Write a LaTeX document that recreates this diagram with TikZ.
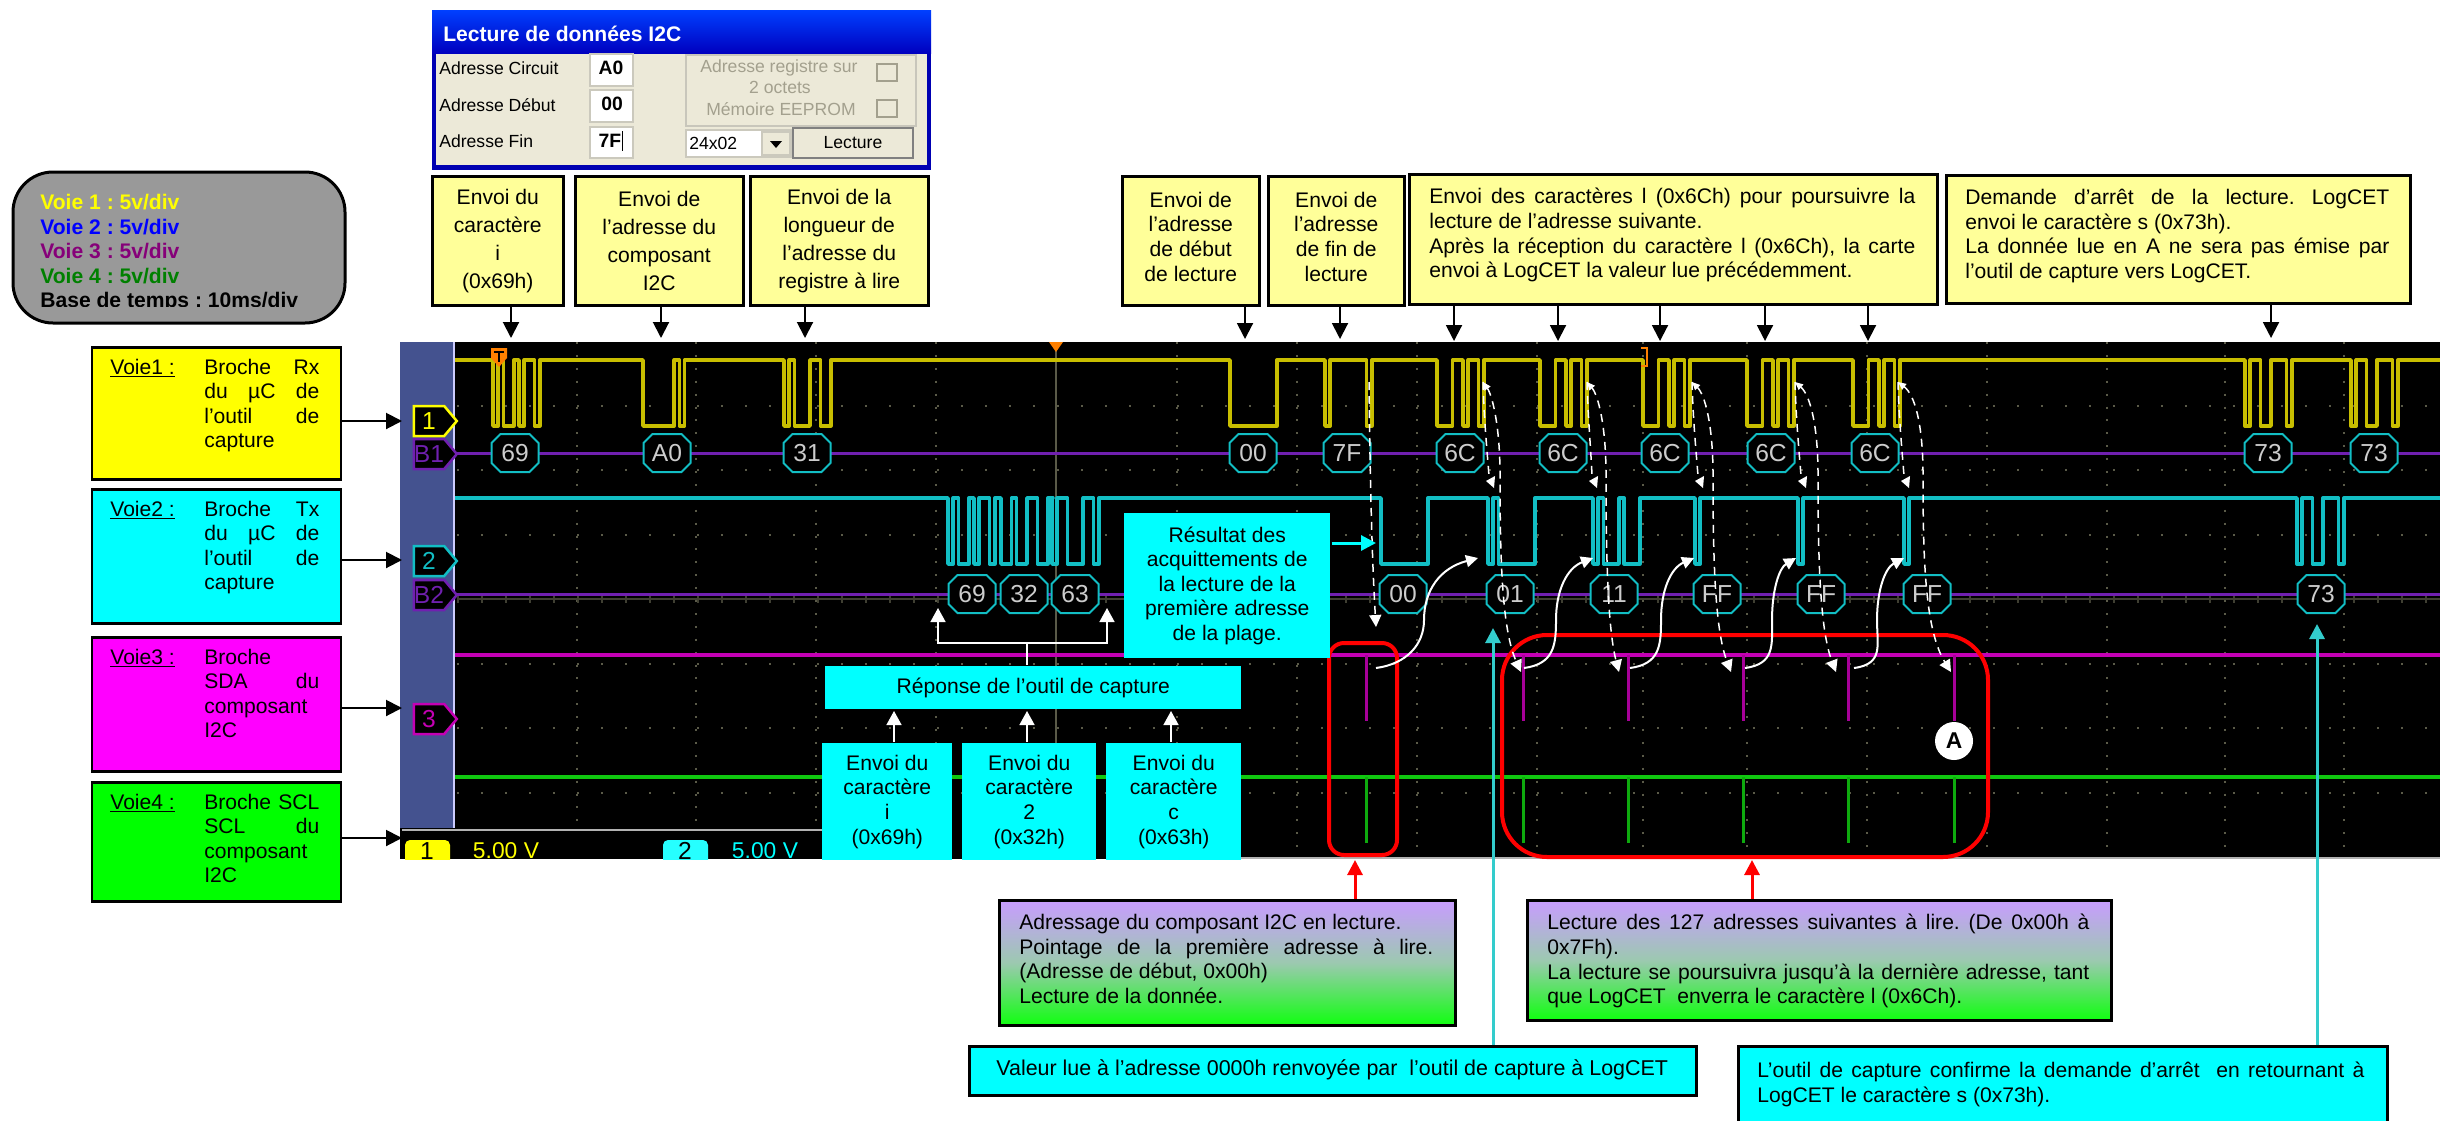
\documentclass[tikz,border=0pt]{standalone}
\usepackage{fontspec}
\setmainfont{Liberation Sans}
\usetikzlibrary{arrows.meta,shapes.misc,shapes.symbols}
\definecolor{cyan}{HTML}{00FFFF}
\definecolor{magenta}{HTML}{FF00FF}
\definecolor{yellow}{HTML}{FFFF00}
\definecolor{jaune}{HTML}{FFFF99}
\definecolor{tealfl}{HTML}{33CCCC}
\definecolor{beige}{HTML}{ECE9D8}
\definecolor{griset}{HTML}{A3A08E}
\definecolor{grille}{HTML}{5A5A48}
\definecolor{panneau}{HTML}{44528F}
\definecolor{tracejaune}{HTML}{C8BE00}
\definecolor{tracecyan}{HTML}{12BEC4}
\definecolor{tracemag}{HTML}{C400B4}
\definecolor{tracevert}{HTML}{10C810}
\definecolor{bus}{HTML}{7020B0}
\definecolor{haut}{HTML}{C89CFF}
\definecolor{milieu}{HTML}{9CC9B0}
\definecolor{bas}{HTML}{10FF10}
\hbadness=10000
\hfuzz=5pt
\frenchspacing
\tikzset{
  boite/.style={draw,line width=.5mm,anchor=north west,inner sep=0pt,font=\fontsize{12}{14}\selectfont},
  centre/.style={boite,align=center},
  large/.style={boite,align=center,font=\fontsize{12}{15.9}\selectfont},
  just/.style={anchor=north west,inner sep=0pt,align=justify,font=\fontsize{12}{14}\selectfont},
  degrade/.style={boite,top color=haut,bottom color=bas,middle color=milieu},
  fleche/.style={-{Triangle[width=3.2mm,length=3.2mm]},line width=.4mm},
  flblanc/.style={-{Triangle[width=3mm,length=2.8mm]},line width=.3mm,white},
  flrouge/.style={-{Triangle[width=3mm,length=3mm]},line width=.6mm,red},
  fltier/.style={-{Triangle[width=3mm,length=3mm]},line width=.6mm,tealfl},
  flcyan/.style={-{Triangle[width=3mm,length=3mm]},line width=.6mm,cyan},
  arc/.style={-{Triangle[width=2.4mm,length=2.4mm]},line width=.4mm,white},
  pointille/.style={line width=.3mm,white,dash pattern=on 1.6mm off 1.2mm},
  trace/.style={line width=.7mm,line join=round},
  etiq/.style={chamfered rectangle,chamfered rectangle xsep=.9mm,chamfered rectangle ysep=.9mm,
    draw=tracecyan,line width=.4mm,fill=black,text=white!80!black,inner sep=0pt,
    minimum width=9.4mm,minimum height=7.6mm,font=\fontsize{14}{14}\selectfont},
  tag/.style={signal,signal to=east,signal pointer angle=100,fill=black,line width=.5mm,inner sep=0pt,
    minimum width=8.6mm,minimum height=6mm,font=\fontsize{14}{14}\selectfont},
  dlg/.style={font=\fontsize{10}{11}\selectfont,inner sep=0pt},
  champ/.style={draw=beige!70!gray,fill=white,line width=.3mm},
  gras/.style={dlg,font=\bfseries\fontsize{11}{12}\selectfont},
}
% une trame serie : depart, puis 10 bits (bit de start compris)
\newcommand{\trames}[4]{%
  \draw[trace,#1] (455,#2)
    \foreach \xs/\bits in {#4} {
      -- (\xs,#2)
      \foreach \b [count=\k from 0] in \bits {
        -- ({\xs+\k*5.2},{#3+\b*(#2-#3)}) -- ({\xs+(\k+1)*5.2},{#3+\b*(#2-#3)})
      }
    } -- (2440,#2);
}
\begin{document}
\begin{tikzpicture}[x=.2mm,y=-.2mm]
  \useasboundingbox (0,0) rectangle (2440,1120);

  % oscilloscope
  \begin{scope}
    \clip (400,342) rectangle (2440,859);
    \fill[black] (400,342) rectangle (2440,859);
    \fill[panneau] (400,342) rectangle (454,828);
    \draw[blue!20!white,line width=.3mm] (454,342) -- (454,828);
    \foreach \x in {577,696,816,936,1056,1177,1297,1417,1537,1643,1747,1867,1987,2107,2225,2344}
      \draw[grille,line width=.4mm,dash pattern=on .4mm off 2.18mm] (\x,342) -- (\x,857);
    \foreach \y in {406,470,535,664,728,793}
      \draw[grille,line width=.4mm,dash pattern=on .4mm off 4.4mm] (457,\y) -- (2440,\y);
    \draw[grille!70!black,line width=.3mm] (457,599) -- (2440,599);
    \draw[grille!70!black,line width=1.6mm,dash pattern=on .3mm off 4.5mm] (457,599) -- (2440,599);
    \draw[grille,line width=.3mm] (1056,342) -- (1056,830);
    \fill[orange] (1049,342) -- (1063,342) -- (1056,352) -- cycle;
    \fill[black] (402,829) rectangle (824,859);
    \draw[gray!60,line width=.4mm] (402,830) -- (824,830);
    \draw[gray!60,line width=.4mm] (1240,858) -- (2440,858);

    \trames{tracejaune}{360}{426}{493/{0,1,0,0,1,0,1,1,0,1},643/{0,0,0,0,0,0,1,0,1,1},784/{0,1,0,0,0,1,1,0,0,1},
      1230/{0,0,0,0,0,0,0,0,0,1},1325/{0,1,1,1,1,1,1,1,0,1},1437/{0,0,0,1,1,0,1,1,0,1},1540/{0,0,0,1,1,0,1,1,0,1},
      1643/{0,0,0,1,1,0,1,1,0,1},1747/{0,0,0,1,1,0,1,1,0,1},1853/{0,0,0,1,1,0,1,1,0,1},
      2245/{0,1,1,0,0,1,1,1,0,1},2351/{0,1,1,0,0,1,1,1,0,1}}
    \trames{tracecyan}{498}{564}{948/{0,1,0,0,1,0,1,1,0,1},1001/{0,0,1,0,0,1,1,0,0,1},1052/{0,1,1,0,0,0,1,1,0,1},
      1381/{0,0,0,0,0,0,0,0,0,1},1488/{0,1,0,0,0,0,0,0,0,1},1593/{0,1,0,0,0,1,0,0,0,1},
      1695/{0,1,1,1,1,1,1,1,1,1},1798/{0,1,1,1,1,1,1,1,1,1},1904/{0,1,1,1,1,1,1,1,1,1},
      2297/{0,1,1,0,0,1,1,1,0,1}}
    \draw[bus,line width=.6mm] (455,453) -- (2440,453);
    \draw[bus,line width=.6mm] (455,594) -- (2440,594);
    \draw[tracemag,line width=.9mm] (455,655) -- (2440,655);
    \draw[tracevert,line width=.9mm] (455,777) -- (2440,777);
    \foreach \x in {1366,1523,1628,1743,1848,1954} {
      \draw[tracemag!85!black,line width=.6mm] (\x,655) -- (\x,721);
      \draw[tracevert!85!black,line width=.6mm] (\x,777) -- (\x,843);
    }

    \foreach \x/\t in {515/69,667/A0,807/31,1253/00,1347/7F,1460/6C,1563/6C,1665/6C,1771/6C,1875/6C,2268/73,2374/73}
      \node[etiq] (rx\x) at (\x,453) {\t};
    \foreach \x/\t in {972/69,1024/32,1075/63,1403/00,1510/01,1614/11,1717/FF,1821/FF,1927/FF,2321/73}
      \node[etiq] (tx\x) at (\x,594) {\t};

    \node[tag,draw=yellow,text=yellow] (tagA) at (429,421) {1};
    \node[tag,draw=bus,text=bus] (tagBa) at (429,454) {B1};
    \node[tag,draw=tracecyan,text=tracecyan] (tagB) at (429,561) {2};
    \node[tag,draw=bus,text=bus] (tagBb) at (429,595) {B2};
    \node[tag,draw=tracemag,text=tracemag] (tagC) at (429,719) {3};

    % marqueurs
    \fill[orange] (491,348) -- (507,348) -- (507,358) -- (499,367) -- (491,358) -- cycle;
    \draw[black,line width=.4mm] (494,352) -- (504,352) (499,352) -- (499,362);
    \draw[orange,line width=.5mm] (1641,348) -- (1647,348) -- (1647,366) -- (1641,366);

    % bas d'ecran
    \fill[yellow,rounded corners=1mm] (405,840) rectangle (450,870);
    \fill[cyan!85!white,rounded corners=1mm] (663,840) rectangle (708,870);
    \node[font=\fontsize{14}{14}\selectfont] (calA) at (427,851) {1};
    \node[font=\fontsize{14}{14}\selectfont] (calB) at (685,851) {2};
    \node[yellow,font=\fontsize{13}{14}\selectfont] (valA) at (506,851) {5.00 V};
    \node[cyan,font=\fontsize{13}{14}\selectfont] (valB) at (765,851) {5.00 V};

    \node[circle,fill=white,text=black,inner sep=0pt,minimum size=7.6mm,font=\bfseries\fontsize{13}{14}\selectfont] (markA) at (1954,741) {A};

    \draw[red,line width=.8mm,rounded corners=3mm] (1329,643) rectangle (1397,855);
    \draw[red,line width=.8mm,rounded corners=9mm] (1502,635) rectangle (1988,857);
  \end{scope}

  % fleches blanches dans l'ecran
  \draw[pointille,-{Triangle[width=2.4mm,length=2.4mm,white]}] (1369,382) .. controls (1370,480) and (1372,560) .. (1376,627);
  \foreach \xt/\xi/\xo/\xe in {1483/1491/1500/1521,1587/1594/1606/1619,1692/1700/1713/1731,1795/1803/1818/1836,1898/1906/1923/1951} {
    \draw[pointille] (\xt,382) .. controls (\xt+1,420) and (\xt+4,450) .. (\xi-2,476);
    \fill[white] (\xi-5,481) -- (\xi+4,476) -- (\xi+3,488) -- cycle;
    \draw[pointille,{Triangle[width=1.4mm,length=1.6mm,white]}-{Triangle[width=2.4mm,length=2.4mm,white]}] (\xt,382)
      .. controls (\xo-8,395) and (\xo,425) .. (\xo,475)
      .. controls (\xo,560) and (\xo+2,630) .. (\xe,672);
  }
  \foreach \xd/\xm/\xa in {1376/1424/1478,1524/1556/1593,1630/1661/1694,1745/1772/1796,1854/1877/1904}
    \draw[arc] (\xd,668) .. controls ({\xd+30},664) and (\xm,645) .. (\xm,620)
      .. controls (\xm,590) and ({\xm+(\xa-\xm)*.3},568) .. (\xa,558);

  % boite de dialogue
  \fill[blue!70!black] (432,10) rectangle (931,170);
  \fill[beige] (436,53) rectangle (927,165);
  \shade[top color=blue!75!cyan,bottom color=blue!75!black] (432,10) rectangle (931,53);
  \node[dlg,text=white,anchor=west,font=\bfseries\fontsize{12}{13}\selectfont] (titre) at (443,34) {Lecture de données I2C};
  \node[dlg,anchor=west] (lblA) at (439,68) {Adresse Circuit};
  \node[dlg,anchor=west] (lblB) at (439,105) {Adresse Début};
  \node[dlg,anchor=west] (lblC) at (439,141) {Adresse Fin};
  \draw[champ] (590,54) rectangle (633,86);
  \draw[champ] (590,90) rectangle (633,122);
  \draw[champ] (590,127) rectangle (633,158);
  \node[gras] (chA) at (611,68) {A0};
  \node[gras] (chB) at (612,104) {00};
  \node[gras] (chC) at (610,141) {7F};
  \draw[black] (622,131) -- (622,151);
  \draw[griset!60,line width=.3mm] (686,55) rectangle (916,126);
  \node[dlg,text=griset] (optA) at (779,68) {Adresse registre sur};
  \node[dlg,text=griset] (optB) at (780,87) {2 octets};
  \node[dlg,text=griset] (optC) at (781,109) {Mémoire EEPROM};
  \draw[griset,line width=.3mm] (877,64) rectangle (897,81);
  \draw[griset,line width=.3mm] (877,100) rectangle (897,117);
  \draw[champ] (686,130) rectangle (791,157);
  \node[dlg,anchor=west] (modele) at (689,143) {24x02};
  \draw[beige!70!gray,fill=beige,line width=.3mm] (762,132) rectangle (790,155);
  \fill[black] (770,141) -- (782,141) -- (776,148) -- cycle;
  \draw[gray,fill=beige,line width=.3mm] (793,128) rectangle (913,158);
  \node[dlg] (lecture) at (853,143) {Lecture};

  % legende
  \draw[black,fill=gray!80,line width=.6mm,rounded corners=8mm] (13,172) rectangle (345,323);
  \begin{scope}[every node/.style={anchor=west,inner sep=0pt,font=\bfseries\fontsize{12}{13}\selectfont}]
    \node[yellow] (legA) at (40,202) {Voie 1 : 5v/div};
    \node[blue] (legB) at (40,227) {Voie 2 : 5v/div};
    \node[purple!70!blue] (legC) at (40,251) {Voie 3 : 5v/div};
    \node[green!50!black] (legD) at (40,276) {Voie 4 : 5v/div};
    \clip (13,290) rectangle (345,306);
    \node (legE) at (40,302) {Base de temps : 10ms/div};
  \end{scope}

  % voies
  \foreach \n/\y/\h/\c/\t/\l in {A/346/26.4mm/yellow/Voie1 :/{Broche Rx\linebreak du µC de\linebreak l’outil de\linebreak capture},
      B/488/26.8mm/cyan/Voie2 :/{Broche Tx\linebreak du µC de\linebreak l’outil de\linebreak capture},
      C/636/26.8mm/magenta/Voie3 :/{Broche\linebreak SDA du\linebreak composant\newline I2C},
      D/781/23.8mm/green/Voie4 :/{Broche SCL\linebreak SCL du\linebreak composant\newline I2C}} {
    \node[boite,fill=\c,minimum width=49.8mm,minimum height=\h] (voie\n) at (90.5,\y) {};
    \node[anchor=base west,inner sep=0pt,font=\fontsize{12}{14}\selectfont] (voie\n t) at (110,\y+28)
      {\parbox[t]{18.8mm}{\underline{\t}}\parbox[t]{23mm}{\l}};
  }

  \coordinate (chanA) at (402,421);
  \coordinate (chanB) at (402,560);
  \coordinate (chanC) at (402,708);
  \coordinate (chanD) at (402,838);
  \foreach \v in {A,B,C,D}
    \draw[fleche] (voie\v.east |- chan\v) -- (chan\v);

  % envois du haut
  \node[large,fill=jaune,minimum width=26.2mm,minimum height=25.8mm] (envA) at (431,175) {Envoi du\\caractère\\i\\(0x69h)};
  \node[large,fill=jaune,minimum width=33.6mm,minimum height=25.8mm] (envB) at (574,175) {Envoi de\\l’adresse du\\composant\\I2C};
  \node[large,fill=jaune,minimum width=35.6mm,minimum height=25.8mm] (envC) at (749,175) {Envoi de la\\longueur de\\l’adresse du\\registre à lire};
  \node[boite,fill=jaune,minimum width=27.4mm,minimum height=25.8mm] (envD) at (1121,175) {};
  \node[align=center,inner sep=0pt,font=\fontsize{12}{14}\selectfont,yshift=.8mm] (envDt) at (envD.center) {Envoi de\\l’adresse\\de début\\de lecture};
  \node[boite,fill=jaune,minimum width=27.2mm,minimum height=25.8mm] (envE) at (1267,175) {};
  \node[align=center,inner sep=0pt,font=\fontsize{12}{14}\selectfont,yshift=.8mm] (envEt) at (envE.center) {Envoi de\\l’adresse\\de fin de\\lecture};
  \node[boite,fill=jaune,minimum width=105.6mm,minimum height=26mm] (envF) at (1408,173) {};
  \node[just,text width=97.2mm] (envFt) at (1429,188) {Envoi des caractères l (0x6Ch) pour poursuivre la\linebreak lecture de l’adresse suivante.\par
    Après la réception du caractère l (0x6Ch), la carte\linebreak envoi à LogCET la valeur lue précédemment.};
  \node[boite,fill=jaune,minimum width=92.8mm,minimum height=25.6mm] (envG) at (1945,174) {};
  \node[just,text width=84.8mm] (envGt) at (1965,189) {Demande d’arrêt de la lecture. LogCET\linebreak envoi le caractère s (0x73h).\par
    La donnée lue en A ne sera pas émise par\linebreak l’outil de capture vers LogCET.};

  \foreach \b/\x/\y in {envA/511/338,envB/661/338,envC/805/338,envD/1245/339,envE/1340/339,
      envF/1454/341,envF/1558/341,envF/1660/341,envF/1765/341,envF/1868/341,envG/2271/338} {
    \coordinate (pointe\x) at (\x,\y);
    \draw[fleche] (\b.south -| pointe\x) -- (pointe\x);
  }

  % reponses sur l'ecran
  \node[centre,draw=none,fill=cyan,minimum width=41.2mm,minimum height=29mm] (resultat) at (1123,512) {Résultat des\\acquittements de\\la lecture de la\\première adresse\\de la plage.};
  \coordinate (resF) at (1376,543);
  \draw[flcyan] (resultat.east |- resF) -- (resF);

  \node[centre,draw=none,fill=cyan,minimum width=83.2mm,minimum height=8.6mm] (reponse) at (824,665) {Réponse de l’outil de capture};
  \coordinate (repG) at (938,608);
  \coordinate (repD) at (1107,608);
  \coordinate (repM) at (1027,643);
  \draw[white,line width=.3mm] (repM |- reponse.north) -- (repM);
  \draw[flblanc] (repM) -| (repG);
  \draw[flblanc] (repM) -| (repD);

  \node[centre,fill=cyan,draw=none,minimum width=26mm,minimum height=23.4mm] (envoiA) at (821,742) {Envoi du\\caractère\\i\\(0x69h)};
  \node[centre,fill=cyan,draw=none,minimum width=26.8mm,minimum height=23.4mm] (envoiB) at (961,742) {Envoi du\\caractère\\2\\(0x32h)};
  \node[centre,fill=cyan,draw=none,minimum width=27mm,minimum height=23.4mm] (envoiC) at (1105,742) {Envoi du\\caractère\\c\\(0x63h)};
  \foreach \b/\x in {envoiA/894,envoiB/1027,envoiC/1171} {
    \coordinate (rep\x) at (\x,711);
    \draw[flblanc] (\b.north -| rep\x) -- (rep\x);
  }

  % commentaires du bas
  \node[degrade,minimum width=91.2mm,minimum height=25mm] (gradA) at (998,899) {};
  \node[just,text width=82.8mm] (gradAt) at (1019,914) {Adressage du composant I2C en lecture.\par
    Pointage de la première adresse à lire.\linebreak (Adresse de début, 0x00h)\par Lecture de la donnée.};
  \node[degrade,minimum width=116.8mm,minimum height=24mm] (gradB) at (1526,899) {};
  \node[just,text width=108.4mm] (gradBt) at (1547,914) {Lecture des 127 adresses suivantes à lire. (De 0x00h à\linebreak 0x7Fh).\par
    La lecture se poursuivra jusqu’à la dernière adresse, tant\linebreak que LogCET\ \ enverra le caractère l (0x6Ch).};
  \coordinate (rougeA) at (1355,860);
  \coordinate (rougeB) at (1752,860);
  \draw[flrouge] (gradA.north -| rougeA) -- (rougeA);
  \draw[flrouge] (gradB.north -| rougeB) -- (rougeB);

  \node[boite,fill=cyan,minimum width=145.4mm,minimum height=9.8mm] (valeur) at (968,1045) {};
  \node[anchor=west,inner sep=0pt,font=\fontsize{12.2}{14}\selectfont] (valeurt) at (996,1070) {Valeur lue à l’adresse 0000h renvoyée par\ \ l’outil de capture à LogCET};
  \node[boite,fill=cyan,minimum width=129.8mm,minimum height=17mm] (confirme) at (1737,1045) {};
  \node[just,text width=121.4mm] (confirmet) at (1757,1062) {L’outil de capture confirme la demande d’arrêt\ \ en retournant à\linebreak LogCET le caractère s (0x73h).};
  \coordinate (lueA) at (1493,628);
  \coordinate (lueB) at (2317,624);
  \draw[fltier] (valeur.north -| lueA) -- (lueA);
  \draw[fltier] (confirme.north -| lueB) -- (lueB);
\end{tikzpicture}
\end{document}
